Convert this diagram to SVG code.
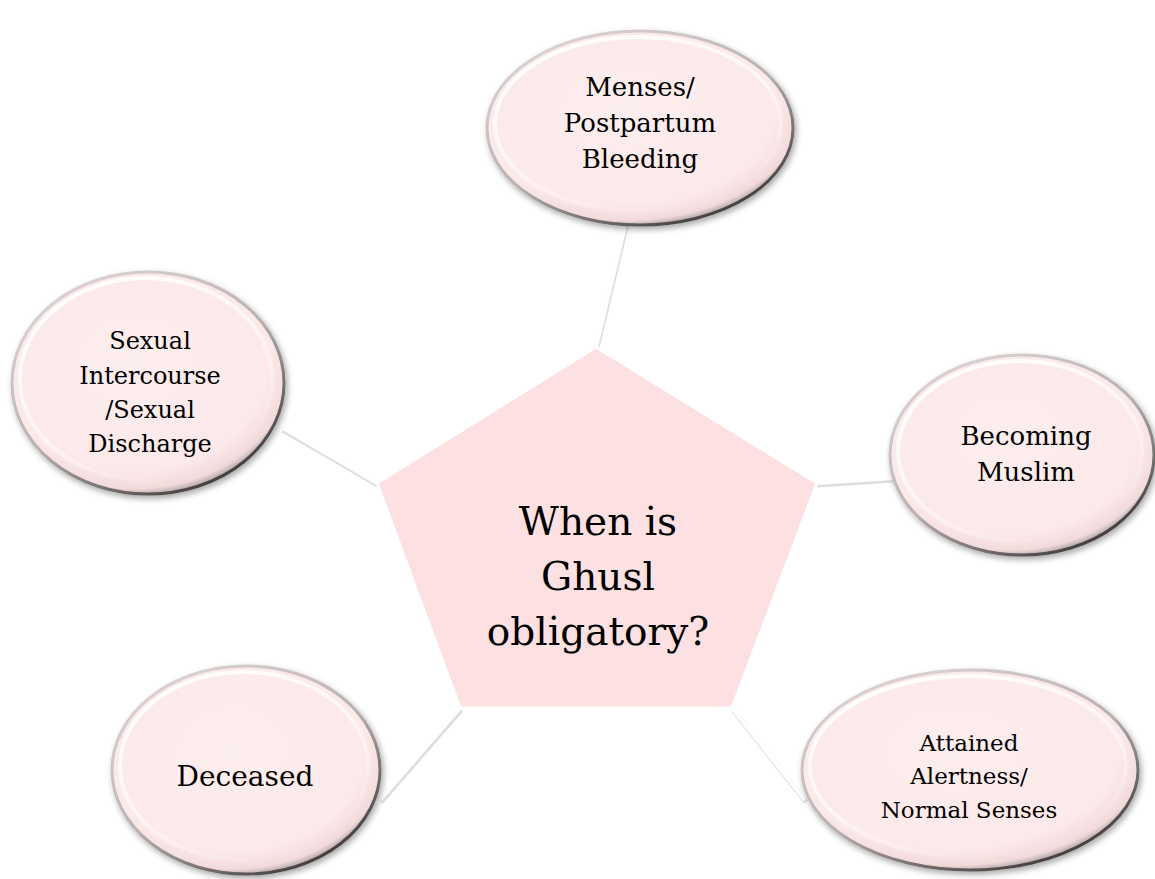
<svg xmlns="http://www.w3.org/2000/svg" width="1155" height="879" viewBox="0 0 1155 879">
<defs>
<radialGradient id="eg" cx="0.45" cy="0.4" r="0.62">
<stop offset="0" stop-color="#fdeeee"/>
<stop offset="0.8" stop-color="#fce9ea"/>
<stop offset="0.93" stop-color="#f2dadb"/>
<stop offset="1" stop-color="#9a9293"/>
</radialGradient>
<linearGradient id="rim" x1="0.2" y1="0.1" x2="0.8" y2="0.95">
<stop offset="0" stop-color="#d8d0d0"/>
<stop offset="0.5" stop-color="#b8b0b0"/>
<stop offset="1" stop-color="#3c3838"/>
</linearGradient>
<linearGradient id="hlg" x1="0.1" y1="0" x2="0.7" y2="1">
<stop offset="0" stop-color="#ffffff" stop-opacity="1"/>
<stop offset="0.6" stop-color="#ffffff" stop-opacity="0.5"/>
<stop offset="1" stop-color="#ffffff" stop-opacity="0"/>
</linearGradient>
<filter id="sh" x="-20%" y="-20%" width="140%" height="140%">
<feGaussianBlur in="SourceAlpha" stdDeviation="3"/>
<feOffset dx="2" dy="3"/>
<feComponentTransfer><feFuncA type="linear" slope="0.35"/></feComponentTransfer>
<feMerge><feMergeNode/><feMergeNode in="SourceGraphic"/></feMerge>
</filter>
</defs>
<style>
.el{fill:url(#eg);stroke:url(#rim);stroke-width:3;filter:url(#sh)}
.hl{fill:none;stroke:url(#hlg);stroke-width:4}
.t{font-family:"DejaVu Serif","Liberation Serif",serif;fill:#000;text-anchor:middle}
.cn{stroke:#ffffff;stroke-width:4;fill:none}
.cs{stroke:#c8c8c8;stroke-width:5;fill:none;opacity:0.6}
</style>
<g id="connectors">
<line class="cs" x1="597" y1="348" x2="628" y2="219"/>
<line class="cn" x1="596" y1="347" x2="627" y2="218"/>
<line class="cs" x1="378" y1="485" x2="283" y2="430"/>
<line class="cn" x1="377" y1="483" x2="283" y2="428"/>
<line class="cs" x1="817" y1="485" x2="894" y2="480"/>
<line class="cn" x1="817" y1="483" x2="894" y2="478"/>
<line class="cs" x1="461" y1="710" x2="381" y2="802"/>
<line class="cn" x1="460" y1="708" x2="380" y2="800"/>
<line class="cs" x1="733" y1="710" x2="806" y2="802"/>
<line class="cn" x1="732" y1="708" x2="805" y2="800"/>
</g>
<g id="center">
<polygon points="596,347 817,483 732,708 460,708 377,483" fill="#fde0e1" stroke="#ffffff" stroke-width="3"/>
<text class="t" font-size="39" x="598" y="535">When is</text>
<text class="t" font-size="39" x="598" y="590">Ghusl</text>
<text class="t" font-size="39" x="598" y="645">obligatory?</text>
</g>
<g id="n-menses">
<ellipse class="el" cx="640" cy="128" rx="153" ry="97"/>
<ellipse class="hl" cx="638" cy="124" rx="143" ry="87"/>
<text class="t" font-size="26" x="640" y="96">Menses/</text>
<text class="t" font-size="26" x="640" y="132">Postpartum</text>
<text class="t" font-size="26" x="640" y="168">Bleeding</text>
</g>
<g id="n-sexual">
<ellipse class="el" cx="148" cy="383" rx="136" ry="111"/>
<ellipse class="hl" cx="146" cy="379" rx="126" ry="101"/>
<text class="t" font-size="24" x="150" y="349">Sexual</text>
<text class="t" font-size="24" x="150" y="384">Intercourse</text>
<text class="t" font-size="24" x="150" y="418">/Sexual</text>
<text class="t" font-size="24" x="150" y="452">Discharge</text>
</g>
<g id="n-muslim">
<ellipse class="el" cx="1022" cy="455" rx="132" ry="100"/>
<ellipse class="hl" cx="1020" cy="451" rx="122" ry="90"/>
<text class="t" font-size="26" x="1026" y="445">Becoming</text>
<text class="t" font-size="26" x="1026" y="481">Muslim</text>
</g>
<g id="n-alert">
<ellipse class="el" cx="970" cy="770" rx="168" ry="100"/>
<ellipse class="hl" cx="968" cy="766" rx="158" ry="90"/>
<text class="t" font-size="23" x="969" y="751">Attained</text>
<text class="t" font-size="23" x="969" y="784">Alertness/</text>
<text class="t" font-size="23" x="969" y="818">Normal Senses</text>
</g>
<g id="n-deceased">
<ellipse class="el" cx="246" cy="770" rx="134" ry="104"/>
<ellipse class="hl" cx="244" cy="766" rx="124" ry="94"/>
<text class="t" font-size="28" x="245" y="786">Deceased</text>
</g>
</svg>
